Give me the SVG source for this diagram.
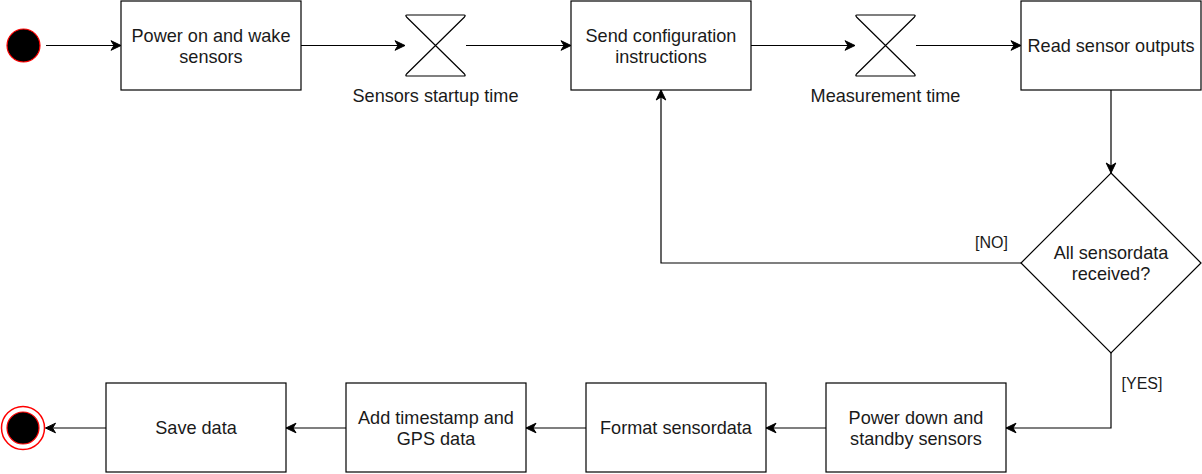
<svg xmlns="http://www.w3.org/2000/svg" width="1202" height="474" viewBox="0 0 1202 474">
<defs>
<style>
.box{fill:#fff;stroke:#000;stroke-width:1.2}
.t{font-family:"Liberation Sans",Arial,sans-serif;font-size:18.1px;fill:#1a1a1a;text-anchor:middle}
.lbl{font-family:"Liberation Sans",Arial,sans-serif;font-size:16px;fill:#1a1a1a;text-anchor:middle}
.edge{fill:none;stroke:#000;stroke-width:1.2;marker-end:url(#arr)}
.hg{fill:#fff;stroke:#000;stroke-width:1.2;stroke-linejoin:round}
</style>
<marker id="arr" markerUnits="userSpaceOnUse" viewBox="-11 -6 12 12" refX="0" refY="0" markerWidth="12" markerHeight="12" orient="auto">
<path d="M0,0 L-10,-4.8 L-7,0 L-10,4.8 Z" fill="#000" stroke="#000" stroke-width="1" stroke-linejoin="miter"/>
</marker>
</defs>
<rect width="1202" height="474" fill="#fff"/>

<g id="connectors">
<path class="edge" d="M46,45.5 L121,45.5"/>
<path class="edge" d="M301,45.5 L405,45.5"/>
<path class="edge" d="M466,45.5 L571,45.5"/>
<path class="edge" d="M751,45.5 L855,45.5"/>
<path class="edge" d="M916,45.5 L1021,45.5"/>
<path class="edge" d="M1111,90 L1111,173"/>
<path class="edge" d="M1021,263 L661,263 L661,90"/>
<path class="edge" d="M1111,353 L1111,428 L1006,428"/>
<path class="edge" d="M826,428 L766,428"/>
<path class="edge" d="M586,428 L526,428"/>
<path class="edge" d="M346,428 L286,428"/>
<path class="edge" d="M106,428 L45.5,428"/>
<text class="lbl" x="991.5" y="248">[NO]</text>
<text class="lbl" x="1142" y="389">[YES]</text>
</g>

<g id="start">
<circle cx="23.5" cy="45.5" r="16.5" fill="#000" stroke="#f00" stroke-width="1.2"/>
</g>

<g id="power-on">
<rect class="box" x="121" y="1" width="180" height="89"/>
<text class="t" x="211" y="41.5">Power on and wake</text>
<text class="t" x="211" y="62.5">sensors</text>
</g>

<g id="startup-time">
<path class="hg" d="M407,15 L464,15 Q466,15 464.5,17 L406.5,74 Q405,76 407,76 L464,76 Q466,76 464.5,74 L406.5,17 Q405,15 407,15 Z"/>
<text class="t" x="435.5" y="101.5">Sensors startup time</text>
</g>

<g id="send-config">
<rect class="box" x="571" y="1" width="180" height="89"/>
<text class="t" x="661" y="41.5">Send configuration</text>
<text class="t" x="661" y="62.5">instructions</text>
</g>

<g id="measurement-time">
<path class="hg" d="M857,15 L914,15 Q916,15 914.5,17 L856.5,74 Q855,76 857,76 L914,76 Q916,76 914.5,74 L856.5,17 Q855,15 857,15 Z"/>
<text class="t" x="885.5" y="101.5">Measurement time</text>
</g>

<g id="read-outputs">
<rect class="box" x="1021" y="1" width="180" height="89"/>
<text class="t" x="1111" y="52">Read sensor outputs</text>
</g>

<g id="decision">
<path class="box" d="M1111,173 L1201,263 L1111,353 L1021,263 Z"/>
<text class="t" x="1111" y="259">All sensordata</text>
<text class="t" x="1111" y="280">received?</text>
</g>

<g id="power-down">
<rect class="box" x="826" y="383" width="180" height="89"/>
<text class="t" x="916" y="424">Power down and</text>
<text class="t" x="916" y="445">standby sensors</text>
</g>

<g id="format">
<rect class="box" x="586" y="383" width="180" height="89"/>
<text class="t" x="676" y="434">Format sensordata</text>
</g>

<g id="timestamp">
<rect class="box" x="346" y="383" width="180" height="89"/>
<text class="t" x="436" y="424">Add timestamp and</text>
<text class="t" x="436" y="445">GPS data</text>
</g>

<g id="save">
<rect class="box" x="106" y="383" width="180" height="89"/>
<text class="t" x="196" y="434">Save data</text>
</g>

<g id="end">
<circle cx="23" cy="428" r="21.5" fill="#fff" stroke="#f00" stroke-width="1.5"/>
<circle cx="23" cy="428" r="16" fill="#000" stroke="#f00" stroke-width="1.2"/>
</g>
</svg>
